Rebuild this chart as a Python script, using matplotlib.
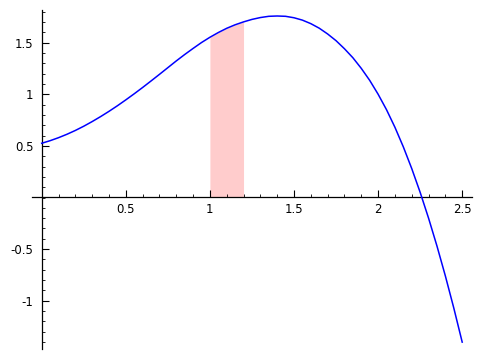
import matplotlib
matplotlib.use("Agg")
import matplotlib.pyplot as plt
from matplotlib.ticker import MultipleLocator, FuncFormatter
import numpy as np

# values (every 0.05 along x)
x_vals = [0.0, 0.05, 0.1, 0.15, 0.2, 0.25, 0.3, 0.35, 0.4, 0.45, 0.5,
          0.55, 0.6, 0.65, 0.7, 0.75, 0.8, 0.85, 0.9, 0.95, 1.0,
          1.05, 1.1, 1.15, 1.2, 1.25, 1.3, 1.35, 1.4, 1.45, 1.5,
          1.55, 1.6, 1.65, 1.7, 1.75, 1.8, 1.85, 1.9, 1.95, 2.0,
          2.05, 2.1, 2.15, 2.2, 2.25, 2.3, 2.35, 2.4, 2.45, 2.5]
y_vals = [0.525, 0.55, 0.579, 0.612, 0.649, 0.69, 0.735, 0.783, 0.834, 0.888, 0.945,
          1.004, 1.065, 1.128, 1.192, 1.257, 1.322, 1.384, 1.443, 1.50, 1.551,
          1.597, 1.638, 1.672, 1.70, 1.724, 1.742, 1.754, 1.757, 1.754, 1.74,
          1.717, 1.683, 1.639, 1.583, 1.518, 1.44, 1.353, 1.25, 1.134, 1.0,
          0.85, 0.68, 0.49, 0.28, 0.05, -0.20, -0.47, -0.76, -1.07, -1.40]
shade_from, shade_to = 1.0, 1.2
x_major_ticks = [0.5, 1, 1.5, 2, 2.5]
y_major_ticks = [-1, -0.5, 0.5, 1, 1.5]

W, H = 481, 359
fig = plt.figure(figsize=(W / 100, H / 100), dpi=100)
left_px, right_px, top_px, bot_px = 32, 472, 10, 349.3
ax = fig.add_axes([left_px / W, (H - bot_px) / H, (right_px - left_px) / W, (bot_px - top_px) / H])

x = np.array(x_vals)
y = np.array(y_vals)
ax.plot(x, y, color="#0000ff", lw=1.1, zorder=3, solid_joinstyle="round")
mask = (x >= shade_from - 1e-9) & (x <= shade_to + 1e-9)
ax.fill_between(x[mask], 0, y[mask], color="#ffcccc", lw=0, zorder=1)

# map pixel extents to data
def px2x(p):
    return (p - 41.7) / 168.2

def px2y(p):
    return (197.5 - p) / 103.3

ax.set_xlim(px2x(left_px), px2x(right_px))
ax.set_ylim(px2y(bot_px), px2y(top_px))

for s in ["top", "right"]:
    ax.spines[s].set_visible(False)
ax.spines["left"].set_position(("data", 0))
ax.spines["bottom"].set_position(("data", 0))
for s in ["left", "bottom"]:
    ax.spines[s].set_linewidth(0.9)
ax.patch.set_visible(False)

ax.set_xticks(x_major_ticks)
ax.set_yticks(y_major_ticks)
ax.xaxis.set_minor_locator(MultipleLocator(0.1))
ax.yaxis.set_minor_locator(MultipleLocator(0.1))
fmt = FuncFormatter(lambda v, p: ("%g" % v))
ax.xaxis.set_major_formatter(fmt)
ax.yaxis.set_major_formatter(fmt)
ax.tick_params(which="major", direction="in", length=5, width=0.8, labelsize=8.5, pad=4)
ax.tick_params(which="minor", direction="in", length=2.5, width=0.6)
ax.tick_params(axis="y", which="major", pad=6)

fig.savefig("out.png", dpi=100)
